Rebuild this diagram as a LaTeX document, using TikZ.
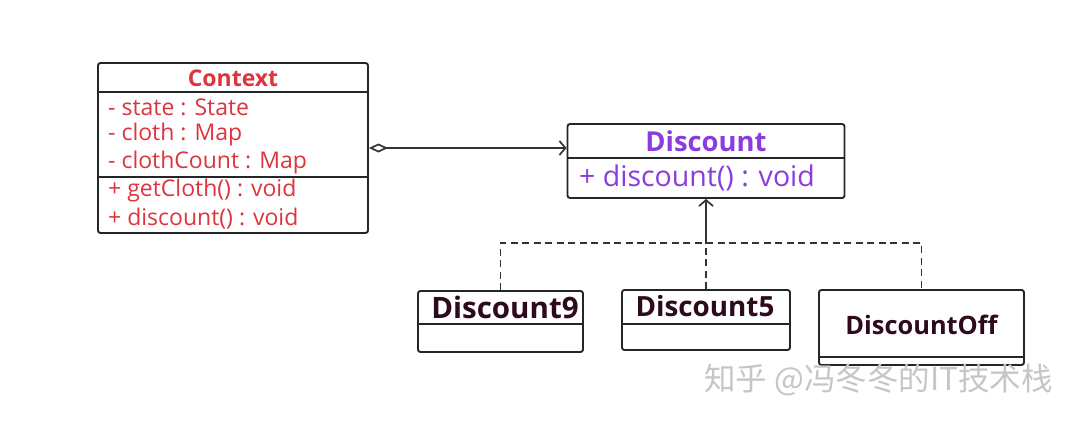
\documentclass[tikz,border=0pt]{standalone}
\usepackage{fontspec}
\setmainfont{Open Sans}
\newfontfamily\cjk{Noto Sans CJK SC}
\usetikzlibrary{arrows.meta}
\definecolor{ctxred}{RGB}{222,52,62}
\definecolor{dpurple}{RGB}{138,60,222}
\definecolor{dtitle}{RGB}{45,10,28}
\definecolor{wm}{RGB}{198,198,198}
\tikzset{
  box/.style={draw=black!85, line width=1.9pt, rounded corners=2.5pt, fill=white, inner sep=0pt},
  divider/.style={draw=black!85, line width=1.7pt},
  conn/.style={draw=black!80, line width=1.7pt},
  dashconn/.style={conn, dash pattern=on 7pt off 4.5pt},
  ctxtxt/.style={text=ctxred, font=\fontsize{23}{25}\selectfont, anchor=west, inner sep=0pt},
  subtitle/.style={text=dtitle, inner sep=0pt},
}
\begin{document}
\begin{tikzpicture}[x=1pt,y=-1pt]
\useasboundingbox[fill=white] (0,0) rectangle (1086,429);
% Context
\node[box, minimum width=270pt, minimum height=170pt] (ctx) at (233,148) {};
\draw[divider] (98,92) -- (368,92);
\draw[divider] (98,177) -- (368,177);
\node[text=ctxred, font=\bfseries\fontsize{23}{25}\selectfont, inner sep=0pt] (ctxt) at (233,78) {Context};
\node[ctxtxt] (a1) at (108,107) {- state : State};
\node[ctxtxt] (a2) at (108,135) {- cloth : Map};
\node[ctxtxt] (a3) at (108,163) {- clothCount : Map};
\node[ctxtxt] (m1) at (108,191) {+ getCloth() : void};
\node[ctxtxt] (m2) at (108,219) {+ discount() : void};
% Discount
\node[box, minimum width=277pt, minimum height=74pt] (disc) at (706,161) {};
\draw[divider] (567.5,158) -- (844.5,158);
\node[text=dpurple, font=\bfseries\fontsize{27.4}{29}\selectfont, inner sep=0pt] (disct) at (706,141) {Discount};
\node[text=dpurple, font=\fontsize{28.5}{30}\selectfont, inner sep=0pt, anchor=west] (discm) at (579,178) {+ discount() : void};
% Subclasses
\node[box, minimum width=165pt, minimum height=61pt] (d9) at (500.5,321.5) {};
\draw[divider] (418,324) -- (583,324);
\node[subtitle, font=\bfseries\fontsize{29.5}{31}\selectfont] (d9t) at (505,307) {Discount9};
\node[box, minimum width=168pt, minimum height=60pt] (d5) at (706,320) {};
\draw[divider] (622,324) -- (790,324);
\node[subtitle, font=\bfseries\fontsize{27.8}{30}\selectfont] (d5t) at (705,306) {Discount5};
\node[box, minimum width=205pt, minimum height=75pt] (doff) at (921.5,327.5) {};
\draw[divider] (819,357) -- (1024,357);
\node[subtitle, font=\bfseries\fontsize{25.4}{27}\selectfont] (dofft) at (921.5,325) {DiscountOff};
% Connectors
\path[conn, {Diamond[open,length=19pt,width=9pt]}-{Straight Barb[length=6pt,width=14pt]}] (ctx.east |- 0,148) -- (disc.west |- 0,148);
\coordinate (j) at (706,243);
\draw[dashconn] (d9.north) |- (doff.north |- j) -- (doff.north);
\draw[dashconn] (d5.north) -- (j);
\draw[conn, -{Straight Barb[length=6pt,width=14pt]}] (j) -- (disc.south);
% Watermark
\node[text=wm, font=\cjk\fontsize{31.5}{33}\selectfont, anchor=west, inner sep=0pt] (wmk) at (704,380) {知乎 @冯冬冬的IT技术栈};
\end{tikzpicture}
\end{document}
